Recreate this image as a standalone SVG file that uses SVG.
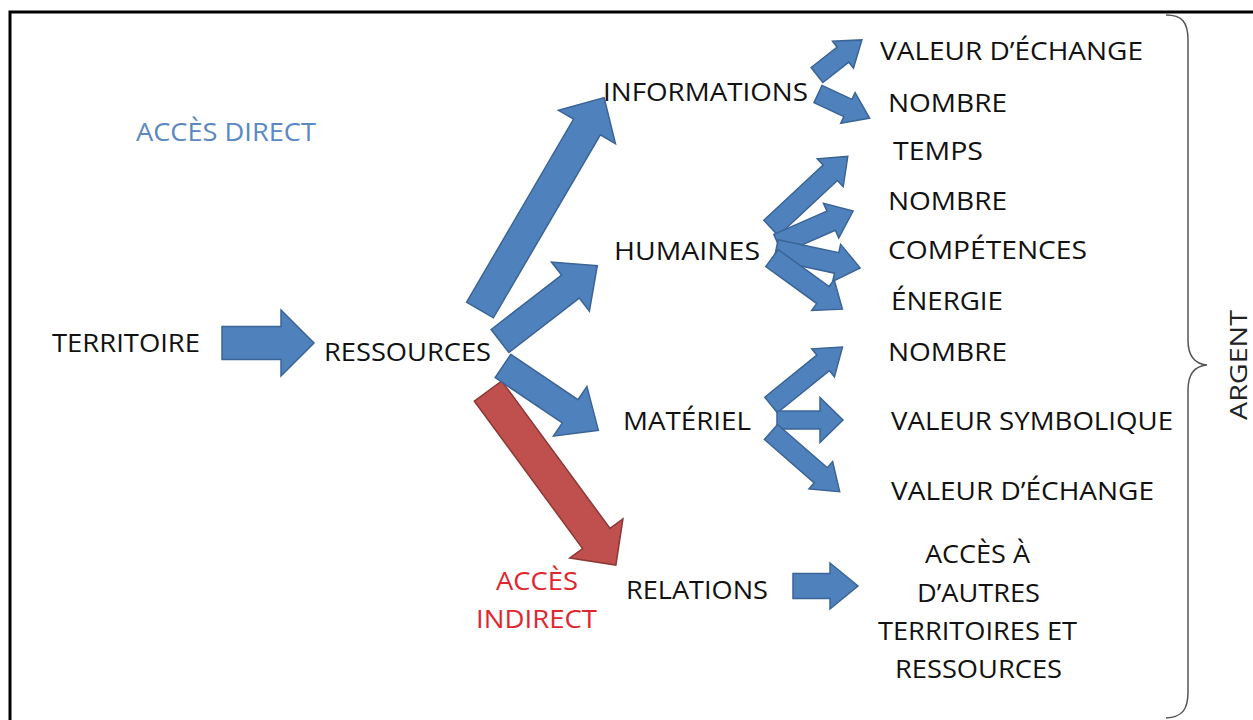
<svg xmlns="http://www.w3.org/2000/svg" width="1253" height="720" viewBox="0 0 1253 720">
<style>
.b{fill:#4F81BD;stroke:#3A6496;stroke-width:1.5;stroke-linejoin:miter}
.r{fill:#C0504D;stroke:#8C3836;stroke-width:1.5}
.t{font-family:"Open Sans","Liberation Sans",sans-serif;font-size:26px;fill:#111}
.blue{fill:#5B87C3}
.red{fill:#E0262E}
</style>
<rect x="10" y="12" width="1300" height="800" fill="#fff" stroke="#000" stroke-width="3"/>
<g id="connectors">
<polygon class="r" transform="translate(488,391) rotate(53.7)" points="0,-17 183,-17 183,-33 216,0 183,33 183,17 0,17"/>
<polygon class="b" transform="translate(222,343)" points="0,-16.5 59,-16.5 59,-33 92,0 59,33 59,16.5 0,16.5"/>
<polygon class="b" transform="translate(480,310) rotate(-59.7)" points="0,-15.5 212,-15.5 212,-33 246,0 212,33 212,15.5 0,15.5"/>
<polygon class="b" transform="translate(500,341) rotate(-37.7)" points="0,-14.5 89,-14.5 89,-31 123,0 89,31 89,14.5 0,14.5"/>
<polygon class="b" transform="translate(503,366) rotate(34)" points="0,-14 81,-14 81,-30 115,0 81,30 81,14 0,14"/>
<polygon class="b" transform="translate(793,586)" points="0,-12.5 37,-12.5 37,-23 65,0 37,23 37,12.5 0,12.5"/>
<polygon class="b" transform="translate(817,75) rotate(-38)" points="0,-9.5 33,-9.5 33,-17 57,0 33,17 33,9.5 0,9.5"/>
<polygon class="b" transform="translate(818,94) rotate(25)" points="0,-9.5 33,-9.5 33,-17 57,0 33,17 33,9.5 0,9.5"/>
<polygon class="b" transform="translate(771,228) rotate(-43)" points="0,-10.5 81,-10.5 81,-19 105,0 81,19 81,10.5 0,10.5"/>
<polygon class="b" transform="translate(778,244) rotate(-23.7)" points="0,-10.5 58,-10.5 58,-19 82,0 58,19 58,10.5 0,10.5"/>
<polygon class="b" transform="translate(776,250) rotate(12)" points="0,-10.5 62,-10.5 62,-19 86,0 62,19 62,10.5 0,10.5"/>
<polygon class="b" transform="translate(772,258) rotate(36)" points="0,-10.5 63,-10.5 63,-19 87,0 63,19 63,10.5 0,10.5"/>
<polygon class="b" transform="translate(771,405) rotate(-39)" points="0,-10 67,-10 67,-18 92,0 67,18 67,10 0,10"/>
<polygon class="b" transform="translate(777,420)" points="0,-9 43,-9 43,-22.5 66,0 43,22.5 43,9 0,9"/>
<polygon class="b" transform="translate(771,432) rotate(41)" points="0,-10 66,-10 66,-18 91,0 66,18 66,10 0,10"/>
<path d="M1166,15 C1182,15 1188,22 1188,40 L1188,340 C1188,356 1195,364 1207,365 C1195,366 1188,374 1188,390 L1188,692 C1188,710 1182,717 1166,718" fill="none" stroke="#555" stroke-width="1.5"/>
</g>
<g id="acces-direct"><text class="t blue" x="136" y="141" textLength="180" lengthAdjust="spacingAndGlyphs">ACCÈS DIRECT</text></g>
<g id="territoire"><text class="t" x="52" y="352" textLength="148" lengthAdjust="spacingAndGlyphs">TERRITOIRE</text></g>
<g id="ressources"><text class="t" x="324" y="361" textLength="167" lengthAdjust="spacingAndGlyphs">RESSOURCES</text></g>
<g id="informations"><text class="t" x="603" y="101" textLength="205" lengthAdjust="spacingAndGlyphs">INFORMATIONS</text></g>
<g id="humaines"><text class="t" x="614" y="260" textLength="146" lengthAdjust="spacingAndGlyphs">HUMAINES</text></g>
<g id="materiel"><text class="t" x="623" y="430" textLength="128" lengthAdjust="spacingAndGlyphs">MATÉRIEL</text></g>
<g id="relations"><text class="t" x="626" y="599" textLength="142" lengthAdjust="spacingAndGlyphs">RELATIONS</text></g>
<g id="acces-indirect">
<text class="t red" x="496" y="590" textLength="82" lengthAdjust="spacingAndGlyphs">ACCÈS</text>
<text class="t red" x="476" y="628" textLength="121" lengthAdjust="spacingAndGlyphs">INDIRECT</text>
</g>
<g id="info-valeur-echange"><text class="t" x="880" y="60" textLength="263" lengthAdjust="spacingAndGlyphs">VALEUR D’ÉCHANGE</text></g>
<g id="info-nombre"><text class="t" x="888" y="112" textLength="119" lengthAdjust="spacingAndGlyphs">NOMBRE</text></g>
<g id="hum-temps"><text class="t" x="893" y="160" textLength="90" lengthAdjust="spacingAndGlyphs">TEMPS</text></g>
<g id="hum-nombre"><text class="t" x="888" y="210" textLength="119" lengthAdjust="spacingAndGlyphs">NOMBRE</text></g>
<g id="hum-competences"><text class="t" x="888" y="259" textLength="199" lengthAdjust="spacingAndGlyphs">COMPÉTENCES</text></g>
<g id="hum-energie"><text class="t" x="891" y="310" textLength="112" lengthAdjust="spacingAndGlyphs">ÉNERGIE</text></g>
<g id="mat-nombre"><text class="t" x="888" y="361" textLength="119" lengthAdjust="spacingAndGlyphs">NOMBRE</text></g>
<g id="mat-valeur-symbolique"><text class="t" x="891" y="430" textLength="282" lengthAdjust="spacingAndGlyphs">VALEUR SYMBOLIQUE</text></g>
<g id="mat-valeur-echange"><text class="t" x="891" y="500" textLength="263" lengthAdjust="spacingAndGlyphs">VALEUR D’ÉCHANGE</text></g>
<g id="acces-autres">
<text class="t" x="925" y="563" textLength="105" lengthAdjust="spacingAndGlyphs">ACCÈS À</text>
<text class="t" x="917" y="602" textLength="123" lengthAdjust="spacingAndGlyphs">D’AUTRES</text>
<text class="t" x="878" y="640" textLength="199" lengthAdjust="spacingAndGlyphs">TERRITOIRES ET</text>
<text class="t" x="895" y="678" textLength="167" lengthAdjust="spacingAndGlyphs">RESSOURCES</text>
</g>
<g id="argent"><text class="t" transform="translate(1247,365) rotate(-90)" x="0" y="0" text-anchor="middle" textLength="110" lengthAdjust="spacingAndGlyphs" style="fill:#222;font-size:24px">ARGENT</text></g>
</svg>
